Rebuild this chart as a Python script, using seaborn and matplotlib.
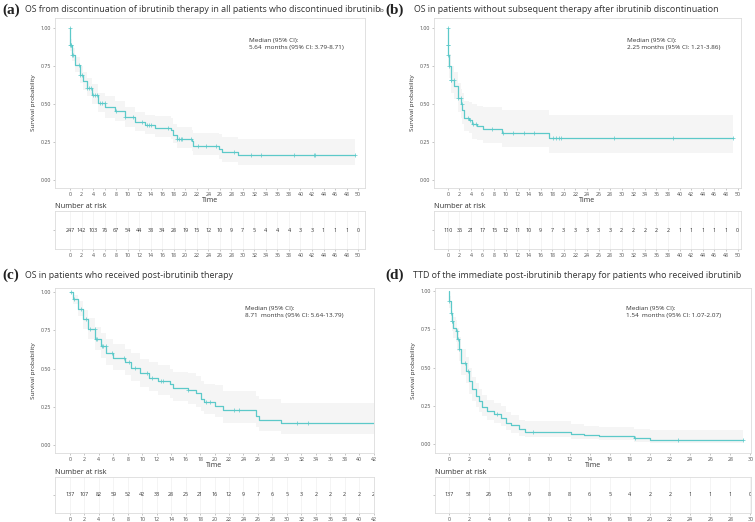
import numpy as np
import pandas as pd
import matplotlib.pyplot as plt
import seaborn as sns

sns.set_theme(style='white')
plt.rcParams['font.family'] = ['Open Sans', 'DejaVu Sans']

# (a) OS from discontinuation, all patients
a_t = [0, 0.05, 0.3, 0.9, 1.7, 2.3, 2.9, 3.8, 4.9, 6.1, 7.8, 9.5, 11.3, 13.0, 14.8, 17.6,
       17.9, 18.5, 21.1, 21.4, 25.8, 26.3, 29.2, 49.5]
a_s = [1.0, 0.89, 0.824, 0.759, 0.693, 0.649, 0.605, 0.561, 0.507, 0.478, 0.452, 0.412, 0.379,
       0.36, 0.342, 0.331, 0.298, 0.272, 0.254, 0.226, 0.204, 0.182, 0.162, 0.162]
a_lo = [1.0, 0.85, 0.78, 0.71, 0.64, 0.59, 0.55, 0.50, 0.45, 0.41, 0.39, 0.35, 0.32, 0.30, 0.28,
        0.27, 0.24, 0.21, 0.19, 0.165, 0.14, 0.12, 0.10, 0.10]
a_hi = [1.0, 0.93, 0.87, 0.81, 0.75, 0.71, 0.67, 0.63, 0.57, 0.55, 0.52, 0.48, 0.45, 0.43, 0.42,
        0.41, 0.37, 0.35, 0.33, 0.31, 0.30, 0.28, 0.27, 0.27]
a_cens = [0.0, 0.05, 0.1, 0.2, 0.3, 0.5, 1.5, 1.8, 2.0, 3.0, 3.3, 3.6, 4.0, 4.3, 4.7, 5.2, 5.6,
          6.0, 8.0, 9.5, 11.0, 12.5, 13.4, 13.7, 14.1, 17.0, 18.6, 18.9, 19.2, 19.5, 21.0, 22.3,
          23.6, 25.4, 28.4, 31.5, 33.1, 38.9, 42.3, 42.6, 49.5]
a_risk = [247, 142, 103, 76, 67, 54, 44, 38, 34, 28, 19, 15, 12, 10, 9, 7, 5, 4, 4, 4, 3, 3,
          1, 1, 1, 0]

# (b) OS, no subsequent therapy
b_t = [0, 0.02, 0.1, 0.17, 0.46, 1.03, 1.72, 2.3, 2.47, 2.76, 3.6, 4.2, 5.06, 6.09, 9.37,
       17.4, 49.3]
b_s = [1.0, 0.89, 0.824, 0.748, 0.66, 0.616, 0.54, 0.5, 0.463, 0.408, 0.397, 0.368, 0.353,
       0.335, 0.309, 0.276, 0.276]
b_lo = [1.0, 0.83, 0.75, 0.67, 0.57, 0.53, 0.45, 0.41, 0.37, 0.32, 0.31, 0.27, 0.26, 0.245,
        0.215, 0.178, 0.178]
b_hi = [1.0, 0.95, 0.90, 0.83, 0.75, 0.71, 0.64, 0.60, 0.57, 0.52, 0.51, 0.50, 0.49, 0.48,
        0.46, 0.425, 0.425]
b_cens = [0.0, 0.02, 0.05, 0.1, 0.17, 0.5, 0.6, 1.0, 1.8, 2.2, 2.35, 3.5, 3.9, 4.3, 4.9, 7.6,
          9.45, 11.3, 13.1, 14.8, 18.1, 18.6, 19.1, 19.6, 28.6, 38.8, 49.3]
b_risk = [110, 35, 21, 17, 15, 12, 11, 10, 9, 7, 3, 3, 3, 3, 3, 2, 2, 2, 2, 2, 1, 1, 1, 1, 1, 0]

# (c) OS, post-ibrutinib therapy
c_t = [0, 0.46, 1.15, 1.84, 2.52, 3.44, 4.36, 5.05, 5.97, 7.58, 8.5, 9.64, 11.0, 12.2, 13.8,
       14.2, 16.3, 17.4, 18.1, 18.6, 20.0, 21.1, 25.7, 26.2, 29.2, 42.0]
c_s = [1.0, 0.952, 0.887, 0.821, 0.756, 0.695, 0.647, 0.603, 0.571, 0.542, 0.505, 0.468, 0.44,
       0.418, 0.397, 0.375, 0.36, 0.338, 0.303, 0.281, 0.258, 0.226, 0.19, 0.166, 0.142, 0.142]
c_lo = [1.0, 0.92, 0.84, 0.76, 0.69, 0.62, 0.57, 0.52, 0.49, 0.46, 0.42, 0.38, 0.35, 0.33, 0.31,
        0.29, 0.27, 0.25, 0.22, 0.20, 0.18, 0.145, 0.115, 0.09, 0.072, 0.072]
c_hi = [1.0, 0.98, 0.94, 0.88, 0.83, 0.77, 0.73, 0.69, 0.66, 0.63, 0.60, 0.56, 0.54, 0.52, 0.50,
        0.48, 0.47, 0.45, 0.42, 0.40, 0.39, 0.35, 0.32, 0.30, 0.277, 0.277]
c_cens = [0.2, 0.6, 1.5, 2.2, 2.8, 3.4, 3.6, 3.8, 4.4, 4.6, 5.0, 5.8, 7.5, 8.2, 9.0, 10.7, 11.4,
          12.6, 12.9, 16.3, 18.8, 19.3, 22.7, 23.4, 31.4, 32.9]
c_risk = [137, 107, 82, 59, 52, 42, 33, 28, 25, 21, 16, 12, 9, 7, 6, 5, 3, 2, 2, 2, 2, 2]

# (d) TTD of immediate post-ibrutinib therapy
d_t = [0, 0.05, 0.17, 0.27, 0.37, 0.66, 0.83, 0.99, 1.23, 1.66, 1.99, 2.32, 2.65, 2.98, 3.31,
       3.8, 4.47, 5.13, 5.63, 6.13, 6.95, 7.6, 12.1, 13.4, 14.9, 18.4, 20.0, 29.3]
d_s = [1.0, 0.935, 0.858, 0.804, 0.76, 0.739, 0.684, 0.619, 0.531, 0.477, 0.412, 0.357, 0.314,
       0.281, 0.244, 0.216, 0.194, 0.172, 0.139, 0.122, 0.096, 0.08, 0.067, 0.058, 0.05, 0.041,
       0.026, 0.026]
d_lo = [1.0, 0.89, 0.80, 0.74, 0.69, 0.67, 0.61, 0.54, 0.45, 0.40, 0.33, 0.28, 0.24, 0.21, 0.18,
        0.155, 0.135, 0.115, 0.09, 0.075, 0.055, 0.045, 0.035, 0.03, 0.025, 0.015, 0.006, 0.006]
d_hi = [1.0, 0.97, 0.91, 0.87, 0.83, 0.81, 0.76, 0.70, 0.62, 0.57, 0.50, 0.44, 0.40, 0.36, 0.32,
        0.29, 0.27, 0.25, 0.21, 0.19, 0.16, 0.15, 0.13, 0.12, 0.11, 0.10, 0.09, 0.09]
d_cens = [0.05, 0.17, 0.3, 0.35, 0.75, 0.85, 1.0, 1.6, 1.9, 4.8, 8.4, 18.5, 22.8, 29.3]
d_risk = [137, 51, 26, 13, 9, 8, 8, 6, 5, 4, 2, 2, 1, 1, 1, 0]

titles = ['OS from discontinuation of ibrutinib therapy in all patients who discontinued ibrutinib',
          'OS in patients without subsequent therapy after ibrutinib discontinuation',
          'OS in patients who received post-ibrutinib therapy',
          'TTD of the immediate post-ibrutinib therapy for patients who received ibrutinib']
medians = ['Median (95% CI):\n5.64  months (95% CI: 3.79-8.71)',
           'Median (95% CI):\n2.25 months (95% CI: 1.21-3.86)',
           'Median (95% CI):\n8.71  months (95% CI: 5.64-13.79)',
           'Median (95% CI):\n1.54  months (95% CI: 1.07-2.07)']

line_col = '#5cc9c9'
band_col = '#f5f5f5'
edge_col = '#dcdcdc'
txt_col = '#4d4d4d'

W, H = 755, 522
fig = plt.figure(figsize=(W / 100, H / 100), dpi=100)


def box(l, t, r, b):
    return [l / W, 1 - b / H, (r - l) / W, (b - t) / H]


def style(ax):
    for sp in ax.spines.values():
        sp.set_color(edge_col)
        sp.set_linewidth(0.6)
    ax.tick_params(axis='both', length=1.5, width=0.4, color='#999999', pad=1.5,
                   labelsize=3.8, labelcolor=txt_col, bottom=True, left=True)


def panel(main_box, risk_box, t, s, lo, hi, cens, risk, xmax_tick, xlim, ylim, med, med_xy):
    ax = fig.add_axes(box(*main_box))
    axr = fig.add_axes(box(*risk_box))
    df = pd.DataFrame({'time': t, 'surv': s, 'lo': lo, 'hi': hi})
    ax.fill_between(df['time'], df['lo'], df['hi'], step='post', color=band_col, lw=0)
    sns.lineplot(data=df, x='time', y='surv', ax=ax, drawstyle='steps-post', estimator=None,
                 sort=False, color=line_col, lw=0.9)
    idx = np.searchsorted(np.array(t), np.array(cens), side='right') - 1
    cdf = pd.DataFrame({'time': cens, 'surv': np.array(s)[idx]})
    sns.scatterplot(data=cdf, x='time', y='surv', ax=ax, marker='+', s=7, color=line_col,
                    linewidth=0.5, zorder=3)
    ticks = np.arange(0, xmax_tick + 1, 2)
    ax.set_xticks(ticks)
    ax.set_yticks([0, 0.25, 0.5, 0.75, 1.0])
    ax.set_yticklabels(['0.00', '0.25', '0.50', '0.75', '1.00'])
    ax.set_xlim(*xlim)
    ax.set_ylim(*ylim)
    ax.set_xlabel('Time', fontsize=5, color='#333333', labelpad=0)
    ax.set_ylabel('Survival probability', fontsize=4.6, color='#333333', labelpad=3)
    style(ax)
    ax.text(med_xy[0], med_xy[1], med, transform=ax.transAxes, fontsize=4.6, color='#333333',
            va='top', ha='left', linespacing=1.5)

    rx = ticks[:len(risk)]
    for x, n in zip(rx, risk):
        axr.text(x, 0.5, str(n), ha='center', va='center', fontsize=3.9, color='#333333',
                 clip_on=True)
    axr.set_xticks(ticks)
    axr.set_xlim(*xlim)
    axr.set_ylim(0, 1)
    axr.set_yticks([0.5])
    axr.set_yticklabels([''])
    axr.grid(axis='x', color='#f0f0f0', lw=0.5)
    style(axr)
    axr.set_title('Number at risk', loc='left', fontsize=5.3, color='#333333', pad=2)
    return ax, axr


panel((55, 18, 365, 188), (55, 211, 365, 249), a_t, a_s, a_lo, a_hi, a_cens, a_risk, 50,
      (-2.6, 51.2), (-0.053, 1.066), medians[0], (0.626, 0.88))
panel((434, 18, 741, 188), (434, 211, 741, 249), b_t, b_s, b_lo, b_hi, b_cens, b_risk, 50,
      (-2.4, 50.6), (-0.053, 1.066), medians[1], (0.629, 0.88))
panel((55, 288, 374, 453), (55, 477, 374, 513), c_t, c_s, c_lo, c_hi, c_cens, c_risk, 42,
      (-2.07, 42.05), (-0.052, 1.026), medians[2], (0.596, 0.89))
panel((435, 288, 751, 453), (435, 477, 751, 513), d_t, d_s, d_lo, d_hi, d_cens, d_risk, 30,
      (-1.39, 30.05), (-0.059, 1.02), medians[3], (0.604, 0.89))

# panel letters and titles
for lx, tx, y, lab, title in [(2, 25, 10, '(a)', titles[0]), (385, 414, 10, '(b)', titles[1]),
                              (2, 25, 275, '(c)', titles[2]), (385, 413, 275, '(d)', titles[3])]:
    fig.text(lx / W, 1 - y / H, lab, fontsize=11, fontweight='bold', va='center',
             family=['Liberation Serif', 'DejaVu Serif'], color='#222222')
    fig.text(tx / W, 1 - y / H, title, fontsize=6.4, va='center', color='#333333')
fig.text(379 / W, 1 - 10 / H, 'b', fontsize=4.5, va='center', color='#333333')

fig.savefig('out.png', dpi=100)
